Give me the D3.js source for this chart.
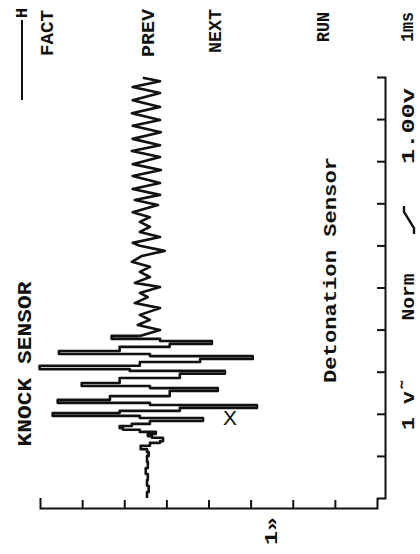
<!DOCTYPE html>
<html>
<head>
<meta charset="utf-8">
<script src="https://cdn.jsdelivr.net/npm/d3@7"></script>
<style>
  html, body { margin: 0; padding: 0; background: #fff; }
  svg { display: block; }
  text { font-family: "Liberation Mono", "DejaVu Sans Mono", monospace; font-weight: bold; fill: #111; }
</style>
</head>
<body>
<div id="svg-container"></div>
<script>
// Channel 1 trace: time in ms, voltage in V relative to channel ground
const traceTime = [0, 0.14, 0.29, 0.43, 0.57, 0.71, 0.86, 1.00, 1.09,
    1.16, 1.24, 1.31, 1.35, 1.43, 1.47, 1.52, 1.57, 1.62, 1.66, 1.71, 1.76,
    1.83, 1.90, 1.95, 2.02, 2.07, 2.14, 2.21, 2.26, 2.33, 2.42, 2.54, 2.61,
    2.66, 2.73, 2.85, 2.95, 3.02, 3.06, 3.14, 3.23, 3.30, 3.37, 3.42, 3.49,
    3.59, 3.66, 3.73, 3.78, 3.85,
    3.99, 4.11, 4.23, 4.35, 4.51, 4.63, 4.77, 4.87, 5.01, 5.11, 5.25, 5.37,
    5.49, 5.61, 5.75, 5.87, 5.99, 6.06, 6.20, 6.32, 6.44, 6.56, 6.67, 6.79,
    6.96, 7.08, 7.20, 7.34, 7.48, 7.65, 7.79, 7.93, 8.10, 8.24, 8.38, 8.53,
    8.69, 8.84, 8.98, 9.14, 9.29, 9.45, 9.62, 9.76, 9.90, 9.98];
const traceVolt = [0.02, -0.02, 0.02, 0, 0.05, 0, 0.02, -0.02, 0.02,
    0.17, -0.05, -0.29, -0.36, -0.10, 0, -0.19, 0.19, 0.59, 0.67, 0.38, -0.05,
    -1.31, 0.19, 2.26, 0.67, -0.76, -2.59, -0.05, 2.14, 0.90, -0.52, -1.66, -0.05,
    1.57, 0.67, -0.76, -1.83, 0.43, 2.57, 0.19, -1.24, -2.49, -0.05, 2.11, 0.67,
    -0.52, -1.52, -0.29, 0.86, 0.19,
    -0.29, 0.24, -0.05, 0.19, -0.29, 0.31, 0, 0.19, -0.29, 0.31, -0.05, 0.19,
    -0.05, 0.38, 0.14, -0.40, 0.19, 0.36, -0.29, 0.19, -0.05, 0.19, -0.05, 0.36,
    -0.24, 0.31, -0.29, 0.36, -0.29, 0.36, -0.31, 0.36, -0.29, 0.38, -0.29, 0.36,
    -0.31, 0.36, -0.29, 0.38, -0.29, 0.36, -0.29, 0.36, -0.29, 0.12];
const burstEnd = 3.85;                                       // ms, sampled steps up to here

const timeTicks = [0, 1, 2, 3, 4, 5, 6, 7, 8, 9, 10];       // ms, 1 ms/div
const voltTicks = [4, 3, 2, 1, 0, -1, -2, -3, -4];          // V on screen, 1 V/div
const groundLevel = 1.44;                                    // ch1 ground on screen (V)
const channelMarkLevel = -1.5;                               // "1»" marker
const triggerPoint = [1.92, -0.51];                          // [ms, screen V]

const softKeys = ['FACT', 'PREV', 'NEXT', 'RUN'];
const title = 'KNOCK SENSOR';
const note = 'Detonation Sensor';
const status = ['1 v\u02DC', 'Norm', '1.00v', '1ms'];

const layout = {
    width: 420, height: 554,
    plot: { left: 40, right: 377, top: 77, bottom: 498 },
    frameX: 385, frameY: 508,
    keys: [[48, 33, 46], [149, 33, 48], [216, 31, 44], [324, 27, 30]],
    statusPos: [[409, 404, 52], [409, 297, 47], [409, 126, 76], [408, 27, 30]],
    slope: [409, 220],
    titlePos: [25, 364, 165],
    notePos: [331, 270, 226]
};

const svg = d3.select('#svg-container')
    .append('svg')
    .attr('width', layout.width)
    .attr('height', layout.height);

svg.append('rect').attr('width', layout.width).attr('height', layout.height).attr('fill', '#fff');

// scope is printed rotated: time runs upward, positive voltage to the left
const y = d3.scaleLinear().domain([0, 10]).range([layout.plot.bottom, layout.plot.top]);
const x = d3.scaleLinear().domain([4, -4]).range([layout.plot.left, layout.plot.right]);

// voltage divisions along the bottom
svg.append('g')
    .attr('class', 'x-axis')
    .attr('transform', `translate(0,${layout.frameY})`)
    .call(d3.axisBottom(x).tickValues(voltTicks.slice(1, -1)).tickSizeInner(-8).tickSizeOuter(-10).tickFormat(''));

// time divisions along the right
svg.append('g')
    .attr('class', 'y-axis')
    .attr('transform', `translate(${layout.frameX},0)`)
    .call(d3.axisRight(y).tickValues(timeTicks.slice(1, -1)).tickSizeInner(-8).tickSizeOuter(-8).tickFormat(''));

svg.selectAll('.x-axis path, .x-axis line, .y-axis path, .y-axis line')
    .attr('stroke', '#111')
    .attr('stroke-width', 2);

// trace: the knock burst is drawn as held samples, the ringing as a plain line
const trace = traceTime.map((t, i) => ({ t: t, v: traceVolt[i] }));
const burst = trace.filter(d => d.t <= burstEnd);
const ringing = trace.filter(d => d.t >= burstEnd);

const stepLine = d3.line()
    .x(d => x(d.v + groundLevel))
    .y(d => y(d.t))
    .curve(d3.curveStepBefore);
const plainLine = d3.line()
    .x(d => x(d.v + groundLevel))
    .y(d => y(d.t));

[[burst, stepLine], [ringing, plainLine]].forEach(([data, gen]) => {
    svg.append('path')
        .datum(data)
        .attr('fill', 'none')
        .attr('stroke', '#111')
        .attr('stroke-width', 2.6)
        .attr('stroke-linejoin', 'round')
        .attr('d', gen);
});

// trigger mark
svg.append('text')
    .attr('x', x(triggerPoint[1]))
    .attr('y', y(triggerPoint[0]))
    .attr('text-anchor', 'middle')
    .attr('dominant-baseline', 'central')
    .style('font-family', '"Liberation Sans", sans-serif')
    .style('font-weight', 'normal')
    .attr('font-size', 21)
    .text('X');

// rotated text helper
const vText = (str, cx, cy, len, size) => svg.append('text')
    .attr('transform', `translate(${cx},${cy}) rotate(-90)`)
    .attr('text-anchor', 'middle')
    .attr('dominant-baseline', 'central')
    .attr('font-size', size)
    .attr('textLength', len)
    .attr('lengthAdjust', 'spacingAndGlyphs')
    .text(str);

softKeys.forEach((k, i) => vText(k, layout.keys[i][0], layout.keys[i][1], layout.keys[i][2], 19));
status.forEach((s, i) => vText(s, layout.statusPos[i][0], layout.statusPos[i][1], layout.statusPos[i][2], 18));
vText(title, layout.titlePos[0], layout.titlePos[1], layout.titlePos[2], 21);
vText(note, layout.notePos[0], layout.notePos[1], layout.notePos[2], 19);

// channel marker below the voltage axis
vText('1\u00BB', x(channelMarkLevel), 531, 28, 19);

// trigger position marker, top-left
svg.append('line').attr('x1', 22).attr('x2', 22).attr('y1', 20).attr('y2', 100)
    .attr('stroke', '#111').attr('stroke-width', 2);
vText('H', 22, 13, 10, 17);

// trigger slope symbol
const sx = layout.slope[0], sy = layout.slope[1];
svg.append('path')
    .attr('d', `M${sx + 5},${sy + 14}V${sy + 8}L${sx - 5},${sy - 8}V${sy - 14}`)
    .attr('fill', 'none')
    .attr('stroke', '#111')
    .attr('stroke-width', 2.4);
</script>
</body>
</html>
